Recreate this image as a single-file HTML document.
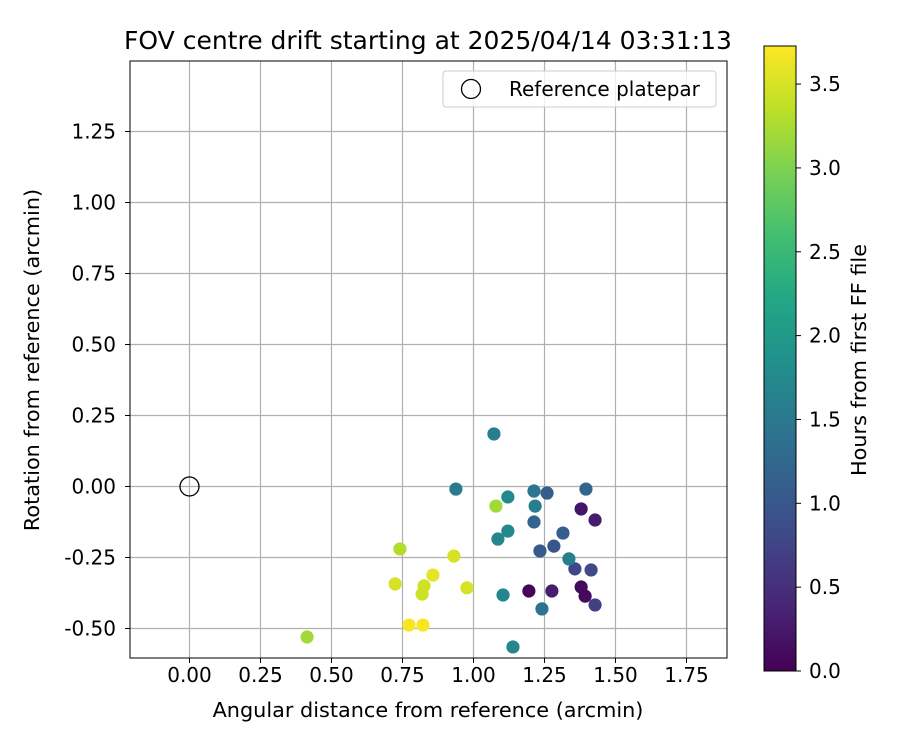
<!DOCTYPE html>
<html><head><meta charset="utf-8"><style>
html,body{margin:0;padding:0;background:#fff;}
svg{display:block;font-family:"DejaVu Sans","Liberation Sans",sans-serif;}
</style></head><body>
<svg id="chart" width="900" height="750" xmlns="http://www.w3.org/2000/svg">
<defs><linearGradient id="vir" x1="0" y1="1" x2="0" y2="0"></linearGradient></defs>
</svg>
<script>
const xValues=[1.072,1.121,1.079,1.213,1.259,1.217,1.213,1.121,1.086,1.234,1.283,1.315,1.336,1.357,1.414,1.396,1.379,1.428,1.104,1.195,1.276,1.379,1.393,1.428,1.241,1.139,0.938,0.741,0.931,0.857,0.724,0.826,0.819,0.977,0.773,0.822,0.414];
const yValues=[0.185,-0.037,-0.069,-0.016,-0.023,-0.069,-0.125,-0.157,-0.185,-0.227,-0.210,-0.164,-0.255,-0.290,-0.294,-0.009,-0.079,-0.118,-0.382,-0.368,-0.368,-0.354,-0.386,-0.417,-0.431,-0.565,-0.009,-0.220,-0.245,-0.312,-0.343,-0.350,-0.379,-0.357,-0.488,-0.488,-0.530];
const hourValues=[1.6,1.75,3.2,1.45,1.1,1.6,1.2,1.75,1.7,1.05,1.0,1.1,1.6,0.8,0.8,1.2,0.2,0.3,1.7,0.05,0.3,0.1,0.1,0.7,1.4,1.7,1.55,3.3,3.5,3.6,3.5,3.45,3.45,3.5,3.7,3.7,3.2];
const xTicks=[0,0.25,0.5,0.75,1.0,1.25,1.5,1.75];
const yTicks=[-0.5,-0.25,0,0.25,0.5,0.75,1.0,1.25];
const cTicks=[0,0.5,1.0,1.5,2.0,2.5,3.0,3.5];
const xMin=-0.2095,xMax=1.8926,yMin=-0.6039,yMax=1.4982,cMax=3.727;
const L=130,R=727,T=61,B=658,CT=46,CB=671,CL=764,CR=796;
const FT='font-size:20px',FL='font-size:20.8px',FH='font-size:25px';
const sx=v=>L+(v-xMin)/(xMax-xMin)*(R-L);
const sy=v=>B-(v-yMin)/(yMax-yMin)*(B-T);
const sc=v=>CB-v/cMax*(CB-CT);
const vir=["#440154","#482475","#414487","#355f8d","#2a788e","#21918c","#22a884","#44bf70","#7ad151","#bddf26","#fde725"];
function hx(c){return [1,3,5].map(i=>parseInt(c.substr(i,2),16));}
function cmap(t){t=Math.max(0,Math.min(1,t))*10;const i=Math.min(9,Math.floor(t)),f=t-i;const a=hx(vir[i]),b=hx(vir[i+1]);return "rgb("+a.map((v,k)=>Math.round(v+(b[k]-v)*f)).join(",")+")";}
const svg=document.getElementById('chart');
const NS="http://www.w3.org/2000/svg";
function mk(tag,attrs,parent){const e=document.createElementNS(NS,tag);for(const k in attrs)e.setAttribute(k,attrs[k]);(parent||svg).appendChild(e);return e;}
const grad=svg.querySelector('#vir');
vir.forEach((c,i)=>mk('stop',{offset:(i*10)+'%','stop-color':c},grad));
xTicks.forEach(v=>{const g=mk('line',{x1:sx(v),x2:sx(v),y1:T,y2:B,stroke:'#b0b0b0','stroke-width':1.2});


const tk=mk('line',{x1:sx(v),x2:sx(v),y1:B,y2:B+5,stroke:'#000'});


const t=mk('text',{x:sx(v),y:B+24,'text-anchor':'middle',style:FT});t.textContent=v.toFixed(2);

});
yTicks.forEach(v=>{const g=mk('line',{x1:L,x2:R,y1:sy(v),y2:sy(v),stroke:'#b0b0b0','stroke-width':1.2});


const tk=mk('line',{x1:L-5,x2:L,y1:sy(v),y2:sy(v),stroke:'#000'});


const t=mk('text',{x:L-14,y:sy(v)+7,'text-anchor':'end',style:FT});t.textContent=v.toFixed(2);

});
const idx=hourValues.map((h,i)=>i).sort((a,b)=>hourValues[a]-hourValues[b]);
idx.forEach(i=>{const c=mk('circle',{cx:sx(xValues[i]),cy:sy(yValues[i]),r:6.6,fill:cmap(hourValues[i]/cMax)});

});
const ref=mk('circle',{cx:sx(0),cy:sy(0),r:9.5,fill:'none',stroke:'#000','stroke-width':1.3});


const fr=mk('rect',{x:L,y:T,width:R-L,height:B-T,fill:'none',stroke:'#000','stroke-width':1});


const lg=mk('g',{});


mk('rect',{x:443,y:71,width:273,height:36,rx:3,fill:'#fff','fill-opacity':0.8,stroke:'#ccc'},lg);
mk('circle',{cx:471,cy:89,r:9.5,fill:'none',stroke:'#000','stroke-width':1.3},lg);
const lt=mk('text',{x:509,y:96,style:FT},lg);lt.textContent='Reference platepar';


const tt=mk('text',{x:428,y:49,'text-anchor':'middle',style:FH});tt.textContent='FOV centre drift starting at 2025/04/14 03:31:13';


const xl=mk('text',{x:428,y:717,'text-anchor':'middle',style:FL});xl.textContent='Angular distance from reference (arcmin)';


const yl=mk('text',{x:0,y:0,'text-anchor':'middle',style:FL,transform:'translate(39,360) rotate(-90)'});yl.textContent='Rotation from reference (arcmin)';


const cb=mk('rect',{x:CL,y:CT,width:CR-CL,height:CB-CT,fill:'url(#vir)',stroke:'#000','stroke-width':1});


cTicks.forEach(v=>{const tk=mk('line',{x1:CR,x2:CR+5,y1:sc(v),y2:sc(v),stroke:'#000'});


const t=mk('text',{x:CR+13,y:sc(v)+7,style:FT});t.textContent=v.toFixed(1);

});
const cl=mk('text',{x:0,y:0,'text-anchor':'middle',style:FL,transform:'translate(866,360) rotate(-90)'});cl.textContent='Hours from first FF file';


</script>
</body></html>
